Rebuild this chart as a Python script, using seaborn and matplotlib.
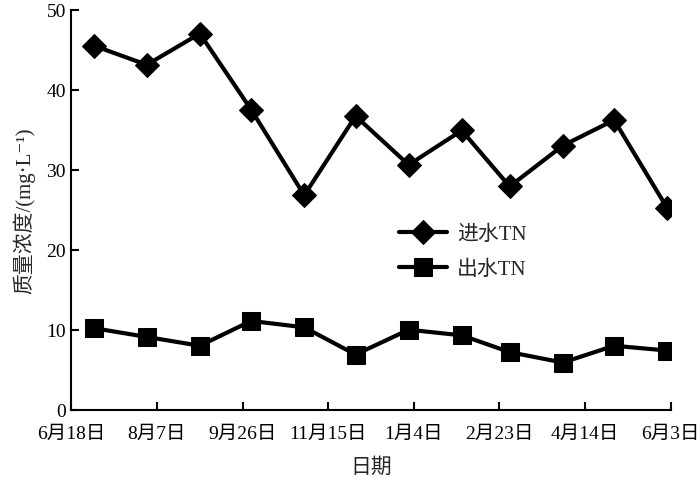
import pandas as pd
import matplotlib
import matplotlib.pyplot as plt
import seaborn as sns

matplotlib.use('Agg')

# 采样日期（每月一次）与进出水TN浓度
sample_dates = ['2014-07-01', '2014-08-01', '2014-09-01', '2014-10-01',
                '2014-11-01', '2014-12-01', '2015-01-01', '2015-02-01',
                '2015-03-01', '2015-04-01', '2015-05-01', '2015-06-01']
inlet_tn = [45.5, 43.1, 47.0, 37.5, 26.8, 36.7, 30.6, 34.9, 27.9, 33.0, 36.2, 25.2]
outlet_tn = [10.2, 9.1, 8.0, 11.1, 10.3, 6.9, 10.0, 9.3, 7.2, 5.9, 8.0, 7.4]

tick_dates = ['2014-06-18', '2014-08-07', '2014-09-26', '2014-11-15',
              '2015-01-04', '2015-02-23', '2015-04-14', '2015-06-03']
tick_labels = ['6月18日', '8月7日', '9月26日', '11月15日',
               '1月4日', '2月23日', '4月14日', '6月3日']
y_ticks = [0, 10, 20, 30, 40, 50]

sns.set_theme(style='ticks')
plt.rcParams['font.family'] = ['Liberation Serif', 'Noto Sans CJK SC', 'DejaVu Sans']
plt.rcParams['axes.unicode_minus'] = False

df = pd.DataFrame({
    '日期': pd.to_datetime(sample_dates),
    '进水TN': inlet_tn,
    '出水TN': outlet_tn,
})
ticks = pd.to_datetime(tick_dates)

fig = plt.figure(figsize=(7, 4.81), dpi=100)
ax = fig.add_axes([0.102, 0.146, 0.856, 0.832])

sns.lineplot(data=df, x='日期', y='进水TN', ax=ax, color='black', linewidth=3,
             marker='D', markersize=12.5, markeredgecolor='black', label='进水TN')
sns.lineplot(data=df, x='日期', y='出水TN', ax=ax, color='black', linewidth=3,
             marker='s', markersize=13.5, markeredgecolor='black', label='出水TN')

ax.set_xlim(ticks[0], ticks[-1])
ax.set_ylim(0, 50)
ax.set_xticks(ticks)
ax.set_xticklabels(tick_labels)
ax.set_yticks(y_ticks)
ax.tick_params(direction='in', length=6, width=1.5, labelsize=14, colors='black')
ax.tick_params(axis='x', pad=11)
ax.tick_params(axis='y', pad=4)
for s in ['top', 'right']:
    ax.spines[s].set_visible(False)
for s in ['left', 'bottom']:
    ax.spines[s].set_linewidth(1.5)
    ax.spines[s].set_color('black')

ax.set_xlabel('日期', fontsize=15, labelpad=11)
ax.set_ylabel('质量浓度/(mg·L⁻¹)', fontsize=15, labelpad=8)

ax.legend(loc='upper left', bbox_to_anchor=(0.555, 0.553), bbox_transform=fig.transFigure,
          frameon=False, fontsize=15, handlelength=2.3, handletextpad=0.5,
          labelspacing=0.75, borderpad=0)

plt.savefig('out.png', dpi=100)
plt.close()
